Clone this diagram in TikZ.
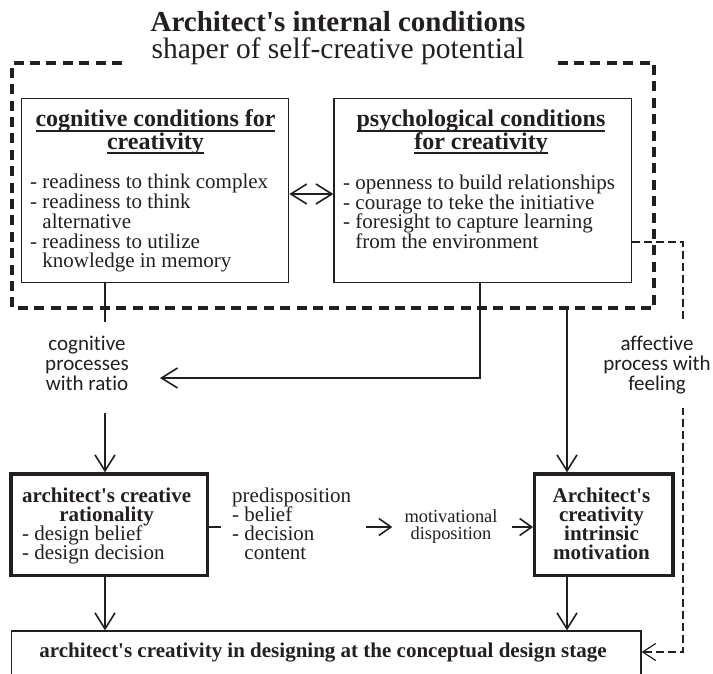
\documentclass[tikz,border=0pt]{standalone}
\usepackage{fontspec}
\setmainfont{Liberation Serif}
\newfontfamily\sansfam{Carlito}[Ligatures=NoCommon]
\usetikzlibrary{arrows.meta}
\definecolor{ink}{HTML}{231F20}
\newcommand\apos{\textquotesingle}
\newcommand\myul[1]{\setbox0\hbox{#1}\rlap{\rule[-4.8pt]{\wd0}{1.8pt}}\box0}
\newcommand\linesL[1]{\vtop{\lineskiplimit=-\maxdimen\halign{##\hfil\cr#1\crcr}}}
\newcommand\linesC[1]{\vtop{\lineskiplimit=-\maxdimen\halign{\hfil##\hfil\cr#1\crcr}}}
\newcommand\mytitle{\fontsize{29}{26}\selectfont\bfseries}
\newcommand\mysub{\fontsize{29.5}{26}\selectfont}
\newcommand\myhead{\fontsize{24}{22.3}\selectfont\bfseries}
\newcommand\mybody{\fontsize{21}{19.75}\selectfont}
\newcommand\myrow{\fontsize{21}{19}\selectfont}
\newcommand\mysmall{\fontsize{18.4}{17.2}\selectfont}
\newcommand\mysans{\sansfam\fontsize{21}{20}\selectfont}
\newcommand\mystage{\fontsize{21}{21}\selectfont\bfseries}
\begin{document}
\begin{tikzpicture}[x=1pt,y=-1pt,
  every node/.style={inner sep=0pt, text=ink},
  thinbox/.style={draw=ink, line width=1.2pt},
  boldbox/.style={draw=ink, line width=3.3pt},
  outerframe/.style={draw=ink, line width=3.4pt, dash pattern=on 10pt off 6.4pt, line join=miter},
  conn/.style={draw=ink, line width=1.6pt},
  arr/.style={conn, -{Straight Barb[length=16pt,width=20pt]}},
  arrs/.style={conn, -{Straight Barb[length=12pt,width=17pt]}},
  dblarr/.style={conn, {Straight Barb[length=16pt,width=20pt]}-{Straight Barb[length=16pt,width=20pt]}},
  thindash/.style={draw=ink, line width=1.2pt, dash pattern=on 7.5pt off 4.5pt, -{Straight Barb[length=13pt,width=17pt]}}]
\useasboundingbox (0,0) rectangle (713,674);
\clip (0,0) rectangle (713,674);

% title
\node[anchor=base, font=\mytitle] (title) at (338,32) {Architect\apos s internal conditions};
\node[anchor=base, font=\mysub] (subtitle) at (338,58.5) {shaper of self-creative potential};

% outer dashed frame
\draw[outerframe] (122,63) -- (12,63) -- (12,308) -- (654,308) -- (654,63) -- (555,63);

% coordinates
\coordinate (f1) at (567,308);
\coordinate (c1) at (105,322);
\coordinate (c2) at (105,413);
\coordinate (pbend) at (480,378);
\coordinate (c3) at (160,378);
\coordinate (dblrow) at (0,194);
\coordinate (midrow) at (0,527);
\coordinate (d0) at (683,242);
\coordinate (d1) at (683,652);

% condition boxes
\node[thinbox, minimum width=267.2pt, minimum height=184pt] (cog) at (155.1,190.3) {};
\node[thinbox, minimum width=297.7pt, minimum height=184pt] (psy) at (482.85,190.3) {};
\node[anchor=base, font=\myhead] (coghead) at (155.5,127) {\linesC{\myul{cognitive conditions for}\cr\myul{creativity}}};
\node[anchor=base west, font=\mybody] (coglist) at (30,189) {\linesL{- readiness to think complex\cr - readiness to think\cr \phantom{- }alternative\cr - readiness to utilize\cr \phantom{- }knowledge in memory}};
\node[anchor=base, font=\myhead] (psyhead) at (481,127) {\linesC{\myul{psychological conditions}\cr\myul{for creativity}}};
\node[anchor=base west, font=\mybody] (psylist) at (343,189.3) {\linesL{- openness to build relationships\cr - courage to teke the initiative\cr - foresight to capture learning\cr \phantom{- }from the environment}};

% process label
\node[anchor=base, font=\mysans] (cogtxt) at (87,350) {\linesC{cognitive\cr processes\cr with ratio}};

% middle row
\node[boldbox, minimum width=196.5pt, minimum height=101.5pt] (rat) at (109.25,524.75) {};
\node[anchor=base west, font=\myrow] (rattxt) at (22,502.7) {\linesL{\hfil\textbf{architect\apos s creative}\cr\hfil\textbf{rationality}\cr - design belief\cr - design decision}};
\node[anchor=base west, font=\myrow] (pred) at (232,502.7) {\linesL{predisposition\cr - belief\cr - decision\cr \phantom{- }content}};
\node[anchor=base, font=\mysmall] (motdisp) at (451,522.2) {\linesC{motivational\cr disposition}};
\node[boldbox, minimum width=138.3pt, minimum height=101.5pt] (mot) at (603.85,524.75) {};
\node[anchor=base, font=\myrow\bfseries] (mottxt) at (601.5,502.7) {\linesC{Architect\apos s\cr creativity\cr intrinsic\cr motivation}};

% bottom box
\node[thinbox, minimum width=629.3pt, minimum height=69pt] (stage) at (326.35,665.5) {};
\node[anchor=base, font=\mystage] (stagetxt) at (323,657) {architect\apos s creativity in designing at the conceptual design stage};

% connectors
\draw[dblarr] (cog.east |- dblrow) -- (psy.west |- dblrow);
\draw[conn] (cog.south -| c1) -- (c1);
\draw[arr] (c2) -- (c2 |- rat.north);
\draw[arr] (psy.south -| pbend) -- (pbend) -- (c3);
\draw[arr] (f1) -- (f1 |- mot.north);
\draw[conn] (rat.east |- midrow) -- ++(12,0);
\draw[arrs, shorten <=15pt, shorten >=12pt] (pred.east |- midrow) -- (motdisp.west |- midrow);
\draw[arrs, shorten <=14pt] (motdisp.east |- midrow) -- (mot.west |- midrow);
\draw[arr] (rat.south -| c2) -- (stage.north -| c2);
\draw[arr] (mot.south -| f1) -- (stage.north -| f1);
\draw[thindash] (psy.east |- d0) -- (d0) -- (d1) -- (d1 -| stage.east);

% affective label over the dashed line
\node[anchor=base, font=\mysans, fill=white, inner xsep=2pt, inner ysep=14pt] (afftxt) at (657,350) {\linesC{affective\cr process with\cr feeling}};
\end{tikzpicture}
\end{document}
